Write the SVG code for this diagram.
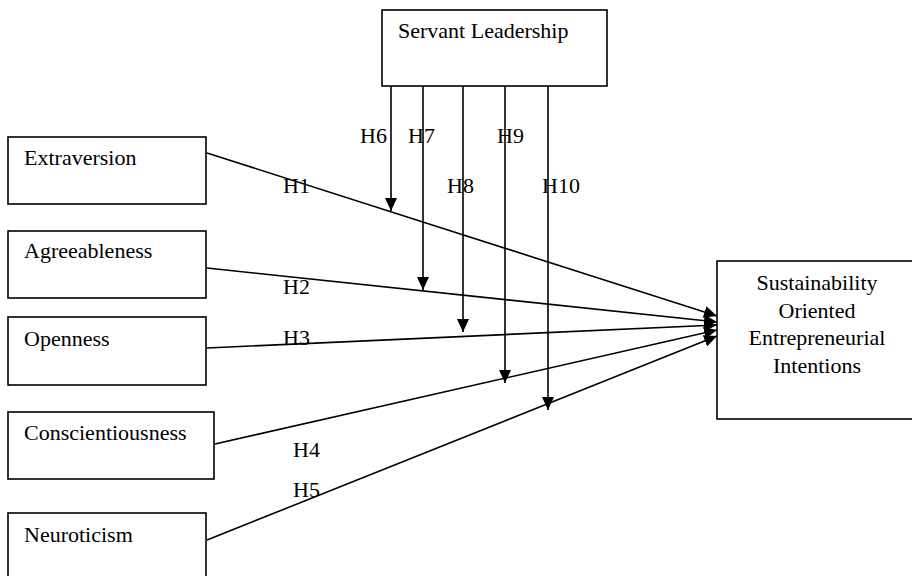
<svg xmlns="http://www.w3.org/2000/svg" width="912" height="576" viewBox="0 0 912 576">
<style>
.box{fill:#fff;stroke:#000;stroke-width:1.6}
.t{font-family:"Liberation Serif","Times New Roman",serif;font-size:22px;fill:#000}
.c{text-anchor:middle}
.ln{stroke:#000;stroke-width:1.6;fill:none}
</style>
<defs>
<marker id="ah" markerUnits="userSpaceOnUse" markerWidth="14" markerHeight="12" refX="13" refY="6" orient="auto">
<path d="M0,0 L13,6 L0,12 Z" fill="#000"/>
</marker>
</defs>
<rect width="912" height="576" fill="#fff"/>
<g id="connectors">
<line class="ln" x1="207" y1="153" x2="717" y2="316" marker-end="url(#ah)"/>
<line class="ln" x1="207" y1="268" x2="717" y2="322" marker-end="url(#ah)"/>
<line class="ln" x1="207" y1="348" x2="717" y2="325" marker-end="url(#ah)"/>
<line class="ln" x1="215" y1="444" x2="717" y2="330" marker-end="url(#ah)"/>
<line class="ln" x1="207" y1="540" x2="717" y2="336" marker-end="url(#ah)"/>
<line class="ln" x1="391" y1="86" x2="391" y2="211" marker-end="url(#ah)"/>
<line class="ln" x1="423" y1="86" x2="423" y2="290" marker-end="url(#ah)"/>
<line class="ln" x1="463" y1="86" x2="463" y2="332" marker-end="url(#ah)"/>
<line class="ln" x1="505" y1="86" x2="505" y2="383" marker-end="url(#ah)"/>
<line class="ln" x1="548" y1="86" x2="548" y2="410" marker-end="url(#ah)"/>
<g class="t">
<text x="283" y="193">H1</text>
<text x="283" y="294">H2</text>
<text x="283" y="345">H3</text>
<text x="293" y="457">H4</text>
<text x="293" y="497">H5</text>
<text x="360" y="143">H6</text>
<text x="408" y="143">H7</text>
<text x="447" y="193">H8</text>
<text x="497" y="143">H9</text>
<text x="542" y="193">H10</text>
</g>
</g>
<g id="servant">
<rect class="box" x="382" y="10" width="225" height="76"/>
<text class="t" x="398" y="38">Servant Leadership</text>
</g>
<g id="extraversion">
<rect class="box" x="8" y="137" width="198" height="67"/>
<text class="t" x="24" y="165">Extraversion</text>
</g>
<g id="agreeableness">
<rect class="box" x="8" y="231" width="198" height="67"/>
<text class="t" x="24" y="258">Agreeableness</text>
</g>
<g id="openness">
<rect class="box" x="8" y="317" width="198" height="68"/>
<text class="t" x="24" y="346">Openness</text>
</g>
<g id="conscientiousness">
<rect class="box" x="8" y="412" width="206" height="67"/>
<text class="t" x="24" y="440">Conscientiousness</text>
</g>
<g id="neuroticism">
<rect class="box" x="8" y="513" width="198" height="70"/>
<text class="t" x="24" y="542">Neuroticism</text>
</g>
<g id="outcome">
<rect class="box" x="717" y="261" width="200" height="158"/>
<text class="t c" x="817" y="290">Sustainability</text>
<text class="t c" x="817" y="318">Oriented</text>
<text class="t c" x="817" y="345">Entrepreneurial</text>
<text class="t c" x="817" y="373">Intentions</text>
</g>
</svg>
